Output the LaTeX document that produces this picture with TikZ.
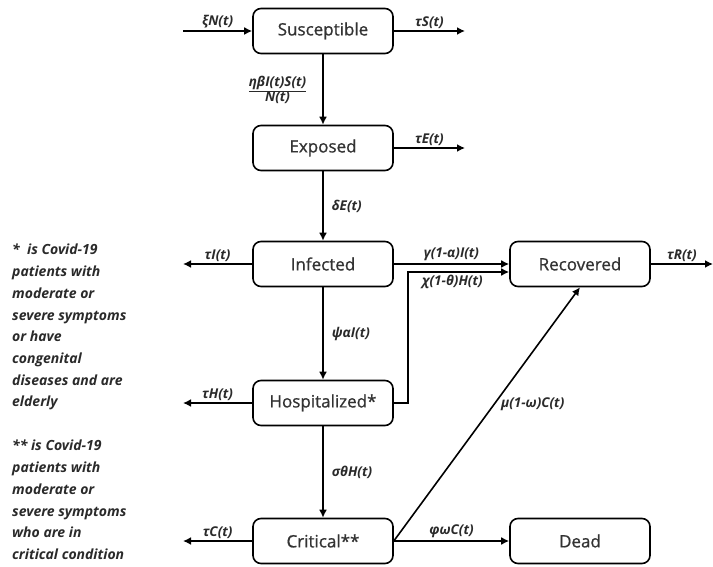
\documentclass[tikz,border=0pt]{standalone}
\usepackage{fontspec}
\setmainfont{Open Sans}
\newfontfamily\boxfont{Open Sans}[FakeBold=0.9]
\usepackage{tikz}
\usetikzlibrary{positioning,calc,arrows.meta}
\definecolor{boxtext}{HTML}{333333}
\definecolor{labtext}{HTML}{2A2A2A}

\begin{document}
\begin{tikzpicture}[
  x=1pt, y=-1pt,
  compart/.style={draw=black, rounded corners=8pt, line width=1.6pt, minimum width=140pt, minimum height=45pt, font=\boxfont\fontsize{17}{20}\selectfont\color{boxtext}},
  flow/.style={line width=1.6pt, -{Latex[length=8pt,width=8pt]}},
  lab/.style={font=\fontsize{13.5}{15}\selectfont\bfseries\itshape\color{labtext}, inner sep=2pt},
  note/.style={font=\fontsize{14}{21.7}\selectfont\bfseries\itshape\color{labtext}, align=left, anchor=north west, inner sep=0pt},
]
\useasboundingbox (0,0) rectangle (713,567);
% compartments
\node[compart] (S) at (323,31)  {Susceptible};
\node[compart] (E) at (323,148) {Exposed};
\node[compart] (I) at (323,264) {Infected};
\node[compart] (H) at (323,403) {Hospitalized*};
\node[compart] (C) at (323,541) {Critical**};
\node[compart] (R) at (580,264) {Recovered};
\node[compart] (D) at (580,541) {Dead};
% free ends of the in/out flows
\coordinate (Sin)  at (183,31);
\coordinate (Sout) at (465,31);
\coordinate (Eout) at (465,148);
\coordinate (Iout) at (183,264);
\coordinate (Hout) at (183,403);
\coordinate (Cout) at (183,541);
\coordinate (Rout) at (713,264);

\draw[flow] (Sin) -- node[lab, above] {ξN(t)} (S);
\draw[flow] (S) -- node[lab, above] {τS(t)} (Sout);
\draw[flow] (E) -- node[lab, above] {τE(t)} (Eout);
\draw[flow] (I) -- node[lab, above] {τI(t)} (Iout);
\draw[flow] (H) -- node[lab, above] {τH(t)} (Hout);
\draw[flow] (C) -- node[lab, above] {τC(t)} (Cout);
\draw[flow] (R) -- node[lab, above] {τR(t)} (Rout);

\draw[flow] (S) -- node[lab, left=14pt, align=center] {\underline{ηβI(t)S(t)}\\N(t)} (E);
\draw[flow] (E) -- node[lab, right=6pt] {δE(t)} (I);
\draw[flow] (I) -- node[lab, right=6pt] {ψαI(t)} (H);
\draw[flow] (H) -- node[lab, right=6pt] {σθH(t)} (C);
\draw[flow] (I) -- node[lab, above] {γ(1-α)I(t)} (R);
\draw[flow] (H.east) -- ++(14,0) |- node[lab, below, pos=0.72] {χ(1-θ)H(t)} ([yshift=-8pt]R.west);
\draw[flow] (C.east) -- node[lab, anchor=west, pos=0.54, xshift=4pt] {μ(1-ω)C(t)} (R.south);
\draw[flow] (C) -- node[lab, above] {φωC(t)} (D);

% footnotes
\node[note] (n1) at (12,244) {*\ \ is Covid-19\\patients with\\moderate or\\severe symptoms\\or have\\congenital\\diseases and are\\elderly};
\node[note] (n2) at (12,440) {** is Covid-19\\patients with\\moderate or\\severe symptoms\\who are in\\critical condition};
\end{tikzpicture}
\end{document}
